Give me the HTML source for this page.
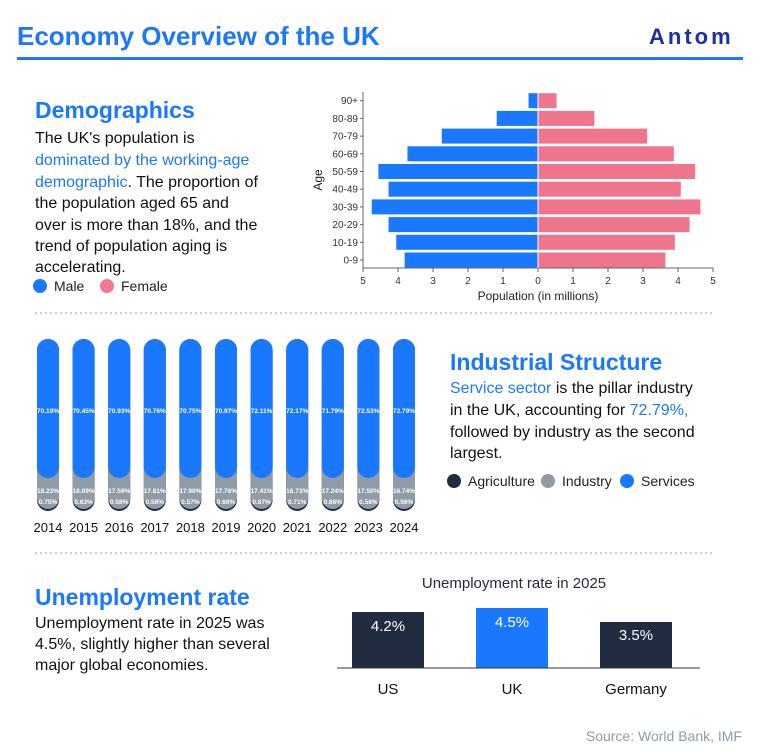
<!DOCTYPE html>
<html><head><meta charset="utf-8"><style>
html,body{margin:0;padding:0;background:#fff;}
svg{display:block;font-family:"Liberation Sans","Noto Sans CJK SC",sans-serif;}
</style></head><body>
<svg id="s" width="760" height="755" viewBox="0 0 760 755" xmlns="http://www.w3.org/2000/svg">
<text x="17" y="45" font-size="26" font-weight="bold" fill="#1a78ff">Economy Overview of the UK</text>
<text x="649" y="44" font-size="22" font-weight="bold" fill="#1c2fa8" letter-spacing="3">Antom</text>
<rect x="17" y="57" width="726" height="3" fill="#1a78ff"/>

<text x="35" y="118" font-size="23" font-weight="bold" fill="#1a78ff">Demographics</text>
<g font-size="16" fill="#111">
<text x="35" y="143">The UK's population is</text>
<text x="35" y="165" fill="#1a78ff">dominated by the working-age</text>
<text x="35" y="187"><tspan fill="#1a78ff">demographic</tspan>. The proportion of</text>
<text x="35" y="208">the population aged 65 and</text>
<text x="35" y="230">over is more than 18%, and the</text>
<text x="35" y="251">trend of population aging is</text>
<text x="35" y="272">accelerating.</text>
</g>
<circle cx="40" cy="286" r="7" fill="#1a78ff"/><text x="54" y="291" font-size="14" fill="#222">Male</text>
<circle cx="107" cy="286" r="7" fill="#f07890"/><text x="121" y="291" font-size="14" fill="#222">Female</text>

<g id="pyr"></g>
<line x1="35" y1="313" x2="715" y2="313" stroke="#999" stroke-dasharray="2,3"/>
<g id="cols"></g>

<text x="450" y="370" font-size="23" font-weight="bold" fill="#1a78ff">Industrial Structure</text>
<g font-size="16" fill="#111">
<text x="450" y="393"><tspan fill="#1a78ff">Service sector</tspan> is the pillar industry</text>
<text x="450" y="415">in the UK, accounting for <tspan fill="#1a78ff">72.79%,</tspan></text>
<text x="450" y="437">followed by industry as the second</text>
<text x="450" y="458">largest.</text>
</g>
<circle cx="454" cy="481" r="7" fill="#222c40"/><text x="468" y="486" font-size="14" fill="#222">Agriculture</text>
<circle cx="548" cy="481" r="7" fill="#8f9ba6"/><text x="562" y="486" font-size="14" fill="#222">Industry</text>
<circle cx="627" cy="481" r="7" fill="#1a78ff"/><text x="641" y="486" font-size="14" fill="#222">Services</text>

<line x1="35" y1="553" x2="715" y2="553" stroke="#999" stroke-dasharray="2,3"/>

<text x="35" y="605" font-size="23" font-weight="bold" fill="#1a78ff">Unemployment rate</text>
<g font-size="16" fill="#111">
<text x="35" y="628">Unemployment rate in 2025 was</text>
<text x="35" y="649">4.5%, slightly higher than several</text>
<text x="35" y="670">major global economies.</text>
</g>
<text x="514" y="588" font-size="15" fill="#222c40" text-anchor="middle">Unemployment rate in 2025</text>
<rect x="352" y="612" width="72" height="56" fill="#222c40"/>
<rect x="476" y="608" width="72" height="60" fill="#1a78ff"/>
<rect x="600" y="622" width="72" height="46" fill="#222c40"/>
<line x1="337" y1="668" x2="700" y2="668" stroke="#333" stroke-width="1"/>
<g font-size="15" fill="#fff" text-anchor="middle">
<text x="388" y="631">4.2%</text><text x="512" y="627">4.5%</text><text x="636" y="640">3.5%</text>
</g>
<g font-size="15" fill="#111" text-anchor="middle">
<text x="388" y="694">US</text><text x="512" y="694">UK</text><text x="636" y="694">Germany</text>
</g>
<text x="742" y="741" font-size="14" fill="#8f9ba6" text-anchor="end">Source:  World Bank, IMF</text>
</svg>
<script>
var NS="http://www.w3.org/2000/svg";
function el(p,t,a,txt){var e=document.createElementNS(NS,t);for(var k in a)e.setAttribute(k,a[k]);if(txt!=null)e.textContent=txt;p.appendChild(e);return e;}
var pyr=document.getElementById("pyr");
var ages=["90+","80-89","70-79","60-69","50-59","40-49","30-39","20-29","10-19","0-9"];
var m=[0.27,1.18,2.75,3.73,4.56,4.27,4.75,4.27,4.05,3.81];
var f=[0.53,1.61,3.12,3.88,4.49,4.08,4.64,4.33,3.91,3.64];
var x0=538,sc=35;
el(pyr,"line",{x1:363,y1:92,x2:363,y2:268,stroke:"#666"});
el(pyr,"line",{x1:363,y1:268,x2:713,y2:268,stroke:"#666"});
for(var i=0;i<10;i++){var cy=100.7+i*17.7;
 el(pyr,"rect",{x:x0-m[i]*sc,y:cy-7.5,width:m[i]*sc,height:15,fill:"#1a78ff"});
 el(pyr,"rect",{x:x0,y:cy-7.5,width:f[i]*sc,height:15,fill:"#ef758c"});
 el(pyr,"line",{x1:360,y1:cy,x2:363,y2:cy,stroke:"#666"});
 el(pyr,"text",{x:358,y:cy+3.5,"font-size":"10","text-anchor":"end",fill:"#333"},ages[i]);}
el(pyr,"line",{x1:x0,y1:92,x2:x0,y2:268,stroke:"#fff","stroke-width":1});
var ticks=[5,4,3,2,1,0,1,2,3,4,5];
for(var j=0;j<11;j++){var x=363+j*35;el(pyr,"line",{x1:x,y1:268,x2:x,y2:272,stroke:"#666"});
 el(pyr,"text",{x:x,y:284,"font-size":"10","text-anchor":"middle",fill:"#333"},ticks[j]);}
el(pyr,"text",{x:538,y:300,"font-size":"12","text-anchor":"middle",fill:"#222"},"Population (in millions)");
el(pyr,"text",{x:0,y:0,"font-size":"12","text-anchor":"middle",fill:"#222",transform:"translate(322,180) rotate(-90)"},"Age");
var cols=document.getElementById("cols");
var sv=["70.19%","70.45%","70.93%","70.76%","70.75%","70.97%","72.11%","72.17%","71.79%","72.53%","72.79%"];
var ind=["18.23%","18.09%","17.59%","17.81%","17.90%","17.76%","17.41%","16.73%","17.24%","17.50%","16.74%"];
var ag=["0.75%","0.63%","0.58%","0.59%","0.57%","0.60%","0.67%","0.71%","0.66%","0.58%","0.56%"];
for(var k=0;k<11;k++){var cx=48+k*35.6,x=cx-11;
 el(cols,"rect",{x:x,y:339,width:22,height:172,rx:11,fill:"#222c40"});
 el(cols,"rect",{x:x,y:339,width:22,height:170,rx:11,fill:"#8f9ba6"});
 el(cols,"rect",{x:x,y:339,width:22,height:139,rx:11,fill:"#1a78ff"});
 el(cols,"text",{x:cx,y:413,"font-size":"6.5","font-weight":"bold","text-anchor":"middle",fill:"#fff"},sv[k]);
 el(cols,"text",{x:cx,y:493,"font-size":"6.5","font-weight":"bold","text-anchor":"middle",fill:"#fff"},ind[k]);
 el(cols,"text",{x:cx,y:504,"font-size":"6.5","font-weight":"bold","text-anchor":"middle",fill:"#fff"},ag[k]);
 el(cols,"text",{x:cx,y:532,"font-size":"13","text-anchor":"middle",fill:"#111"},2014+k);}
</script>
</body></html>
